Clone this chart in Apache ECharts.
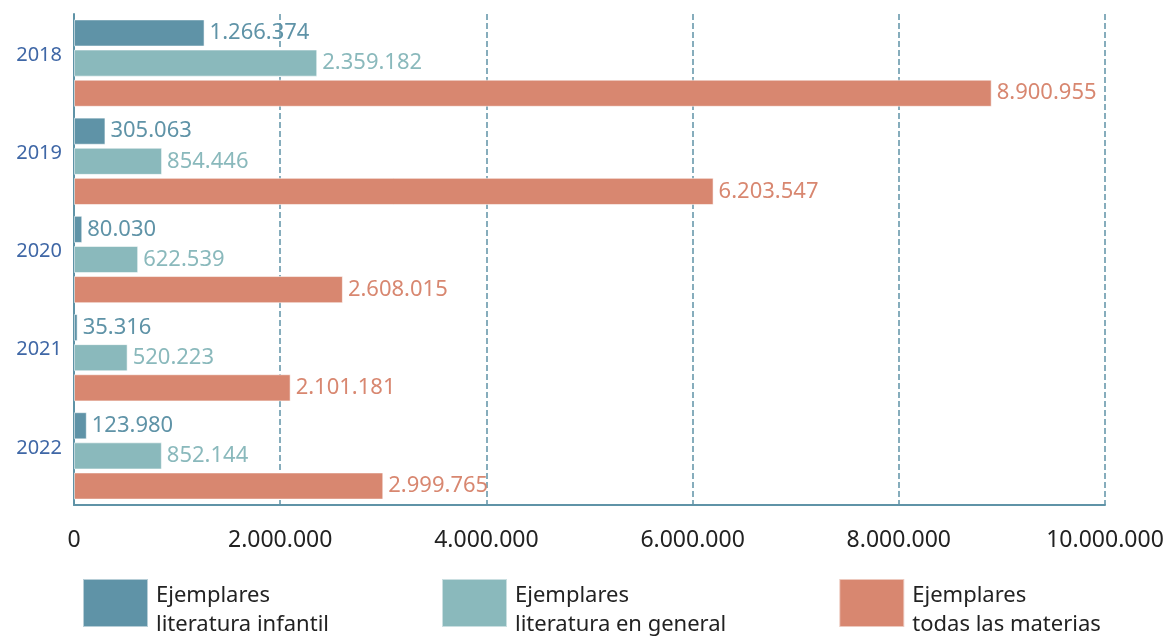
<!DOCTYPE html>
<html>
<head>
<meta charset="utf-8">
<script src="https://cdn.jsdelivr.net/npm/echarts@6/dist/echarts.min.js"></script>
<style>
  html, body { margin: 0; padding: 0; background: #fff; }
  #chart { width: 1169px; height: 636px; }
</style>
</head>
<body>
<div id="chart"></div>
<script>
const years = ['2018', '2019', '2020', '2021', '2022']
const infantil = [1266374, 305063, 80030, 35316, 123980]
const general = [2359182, 854446, 622539, 520223, 852144]
const todas = [8900955, 6203547, 2608015, 2101181, 2999765]
const seriesNames = ['Ejemplares\nliteratura infantil', 'Ejemplares\nliteratura en general', 'Ejemplares\ntodas las materias']
const colors = ['#5f93a7', '#8ab9bc', '#d88770']

// miles con punto
const fmt = v => String(v).replace(/\B(?=(\d{3})+(?!\d))/g, '.')

const chart = echarts.init(document.getElementById('chart'))

function barSeries(name, data, color) {
  return {
    name: name,
    type: 'bar',
    data: data,
    barGap: '11%',
    barCategoryGap: '11%',
    itemStyle: { color: color, borderColor: 'rgba(255,255,255,0.55)', borderWidth: 1 },
    label: {
      show: true,
      position: 'right',
      distance: 5,
      color: color,
      fontSize: 22,
      fontFamily: 'Noto Sans',
      formatter: p => fmt(p.value)
    }
  }
}

chart.setOption({
  animation: false,
  textStyle: { fontFamily: 'Noto Sans' },
  grid: { left: 74, right: 64, top: 14, bottom: 131, containLabel: false },
  legend: {
    left: 77,
    top: 562,
    itemWidth: 65,
    itemHeight: 48,
    itemGap: 112,
    icon: 'rect',
    // linea vacia arriba para bajar el texto respecto al cuadro
    formatter: name => '{s| }\n' + name.split('\n').map(s => '{b|' + s + '}').join('\n'),
    textStyle: {
      fontSize: 22,
      color: '#222',
      lineHeight: 29,
      padding: [0, 0, 0, 3],
      rich: {
        s: { fontSize: 10, lineHeight: 14 },
        b: { fontSize: 22, color: '#222', lineHeight: 29, fontFamily: 'Noto Sans' }
      }
    },
    data: seriesNames
  },
  xAxis: {
    type: 'value',
    min: 0,
    max: 10000000,
    interval: 2000000,
    axisLine: { show: true, lineStyle: { color: '#5f93a7', width: 2 } },
    axisTick: { show: false },
    axisLabel: { color: '#222', fontSize: 23, margin: 24, formatter: v => fmt(v) },
    splitLine: { show: true, lineStyle: { color: '#5f93a7', type: [6, 3], width: 1.5 } }
  },
  yAxis: {
    type: 'category',
    inverse: true,
    data: years,
    axisLine: { show: true, lineStyle: { color: '#5f93a7', width: 2 } },
    axisTick: { show: false },
    axisLabel: { color: '#3f67a6', fontSize: 20, margin: 12, verticalAlign: 'bottom', lineHeight: 16 }
  },
  series: [
    barSeries(seriesNames[0], infantil, colors[0]),
    barSeries(seriesNames[1], general, colors[1]),
    barSeries(seriesNames[2], todas, colors[2])
  ]
})
</script>
</body>
</html>
